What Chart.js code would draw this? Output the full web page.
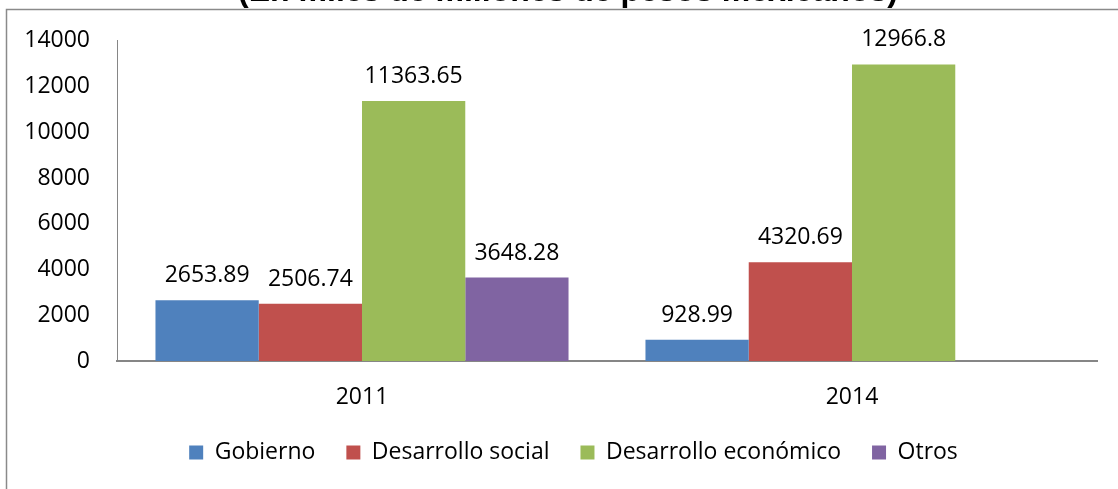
<!DOCTYPE html>
<html lang="es">
<head>
    <meta charset="UTF-8">
    <title>Gasto por sector (En miles de millones de pesos mexicanos)</title>
    <script src="https://cdn.jsdelivr.net/npm/chart.js"></script>
    <style>
        html, body { margin: 0; padding: 0; background: #fff; }
        #wrap { width: 1118px; height: 489px; position: relative; }
    </style>
</head>
<body>
    <div id="wrap"><canvas id="chart"></canvas></div>

    <script>
        // data
        const years = ['2011', '2014'];
        const seriesNames = ['Gobierno', 'Desarrollo social', 'Desarrollo económico', 'Otros'];
        const gobierno = [2653.89, 928.99];
        const desarrolloSocial = [2506.74, 4320.69];
        const desarrolloEconomico = [11363.65, 12966.8];
        const otros = [3648.28, null];
        const yTicks = [0, 2000, 4000, 6000, 8000, 10000, 12000, 14000];

        const colors = ['#4F81BD', '#C0504D', '#9BBB59', '#8064A2'];
        const font = "'Open Sans', sans-serif";

        // value labels above every bar
        const barLabels = {
            id: 'barLabels',
            afterDatasetsDraw(chart) {
                const ctx = chart.ctx;
                ctx.save();
                ctx.font = "23px " + font;
                ctx.fillStyle = '#000';
                ctx.textAlign = 'center';
                ctx.textBaseline = 'alphabetic';
                chart.data.datasets.forEach((ds, i) => {
                    chart.getDatasetMeta(i).data.forEach((bar, j) => {
                        const v = ds.data[j];
                        if (v === null || v === undefined) return;
                        ctx.fillText(String(v), bar.x, bar.y - 18);
                    });
                });
                ctx.restore();
            }
        };

        // legend sits a little right of the canvas centre in the original
        const legendShift = {
            id: 'legendShift',
            afterLayout(chart) {
                chart.legend.left += 25;
                chart.legend.right += 25;
            }
        };

        // outer frame and the title that is cut off at the top
        const frame = {
            id: 'frame',
            afterDraw(chart) {
                const ctx = chart.ctx;
                ctx.save();
                ctx.strokeStyle = '#8a8a8a';
                ctx.lineWidth = 1.5;
                ctx.beginPath();
                ctx.moveTo(6.5, 489);
                ctx.lineTo(6.5, 9.5);
                ctx.lineTo(1118, 9.5);
                ctx.stroke();
                ctx.font = "bold 32px 'Liberation Sans', Arial, sans-serif";
                ctx.fillStyle = '#000';
                ctx.textAlign = 'center';
                ctx.textBaseline = 'alphabetic';
                ctx.fillText('(En miles de millones de pesos mexicanos)', 568, 1);
                ctx.restore();
            }
        };

        const seriesData = [gobierno, desarrolloSocial, desarrolloEconomico, otros];

        new Chart(document.getElementById('chart'), {
            type: 'bar',
            data: {
                labels: years,
                datasets: seriesNames.map((name, i) => ({
                    label: name,
                    data: seriesData[i],
                    backgroundColor: colors[i],
                    borderWidth: 0,
                    categoryPercentage: 0.843,
                    barPercentage: 1
                }))
            },
            options: {
                responsive: true,
                maintainAspectRatio: false,
                animation: false,
                layout: { padding: { left: 0, top: 38, right: 21, bottom: 15 } },
                plugins: {
                    title: { display: false },
                    tooltip: { enabled: false },
                    legend: {
                        position: 'bottom',
                        labels: {
                            color: '#000',
                            font: { family: font, size: 23 },
                            boxWidth: 14,
                            boxHeight: 14,
                            padding: 31
                        }
                    }
                },
                scales: {
                    x: {
                        grid: { display: false, drawTicks: false },
                        border: { display: true, color: '#868686', width: 2 },
                        ticks: { color: '#000', font: { family: font, size: 23 }, padding: 23 },
                        afterFit(scale) { scale.height = 49; }
                    },
                    y: {
                        min: 0,
                        max: 14000,
                        afterBuildTicks(scale) { scale.ticks = yTicks.map(v => ({ value: v })); },
                        grid: { display: false, drawTicks: false },
                        border: { display: true, color: '#868686', width: 1 },
                        ticks: {
                            color: '#000',
                            font: { family: font, size: 23 },
                            padding: 27,
                            callback: v => String(v)
                        },
                        afterFit(scale) { scale.width = 117; }
                    }
                }
            },
            plugins: [barLabels, legendShift, frame]
        });
    </script>
</body>
</html>
